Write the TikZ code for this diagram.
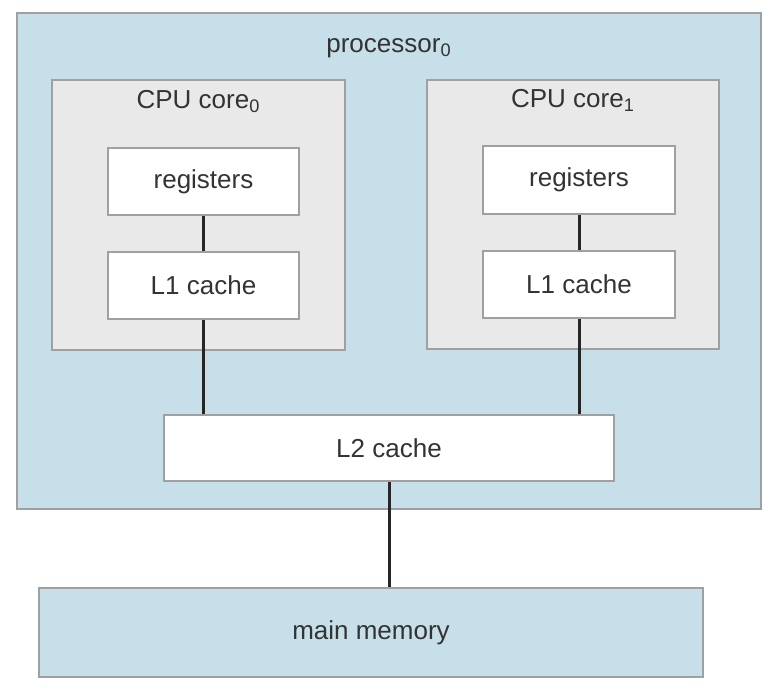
\documentclass[tikz,border=0pt]{standalone}
\usepackage{fontspec}
\setmainfont{Liberation Sans}
\begin{document}
\definecolor{chipblue}{HTML}{C6DFE8}
\definecolor{coregray}{HTML}{E9E9E9}
\definecolor{edgegray}{HTML}{A0A0A0}
\definecolor{inkgray}{HTML}{333333}
\begin{tikzpicture}[x=0.5pt,y=-0.5pt,
  font=\fontsize{13pt}{15.5pt}\selectfont, text=inkgray,
  blk/.style={draw=edgegray, line width=1pt, inner sep=0pt, anchor=center},
  chip/.style={blk, fill=chipblue},
  core/.style={blk, fill=coregray},
  unit/.style={blk, fill=white},
  title/.style={inner sep=0pt, anchor=base},
  bus/.style={draw=black!85, line width=1.5pt}]
  \useasboundingbox (0,0) rectangle (778,692);
  \fill[white] (0,0) rectangle (778,692);

  % processor package
  \node[chip, minimum width=372pt, minimum height=248pt] (proc) at (389,261) {};
  \node[title] (proclabel) at (389,52) {processor\textsubscript{0}};

  % the two cores
  \node[core, minimum width=146.5pt, minimum height=135pt] (core0) at (198.5,215) {};
  \node[title] (core0label) at (198.5,108) {CPU core\textsubscript{0}};
  \node[core, minimum width=146pt, minimum height=134.5pt] (core1) at (573,214.5) {};
  \node[title] (core1label) at (573,107) {CPU core\textsubscript{1}};

  % per-core registers and L1
  \node[unit, minimum width=95.5pt, minimum height=33.5pt] (reg0) at (203.5,181.5) {registers};
  \node[unit, minimum width=95.5pt, minimum height=33.5pt] (l10) at (203.5,285.5) {L1 cache};
  \node[unit, minimum width=96pt, minimum height=34pt] (reg1) at (579,180) {registers};
  \node[unit, minimum width=96pt, minimum height=33.5pt] (l11) at (579,284.5) {L1 cache};

  % shared L2
  \node[unit, minimum width=225pt, minimum height=33pt] (l2) at (389,448) {L2 cache};

  % main memory
  \node[chip, minimum width=332pt, minimum height=44.5pt] (mem) at (371,632.5) {main memory};

  % connections
  \draw[bus] (reg0.south) -- (l10.north);
  \draw[bus] (reg1.south) -- (l11.north);
  \draw[bus] (l10.south) -- (l10.south |- l2.north);
  \draw[bus] (l11.south) -- (l11.south |- l2.north);
  \draw[bus] (l2.south) -- (l2.south |- mem.north);
\end{tikzpicture}
\end{document}
